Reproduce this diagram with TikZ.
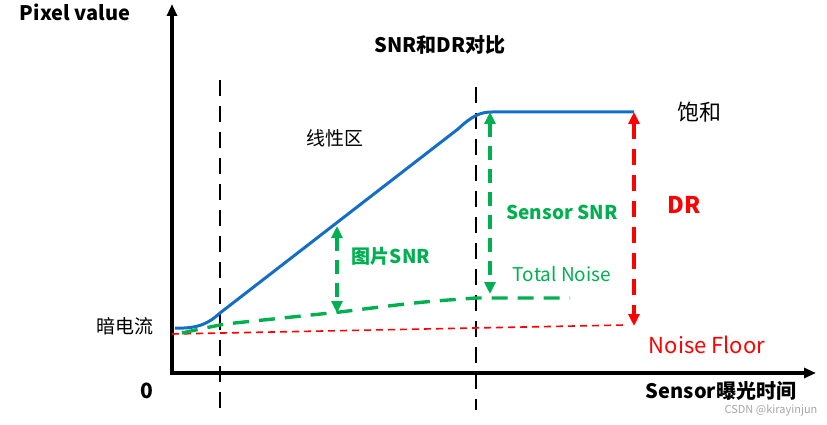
\documentclass[tikz,border=0pt]{standalone}
\usepackage{fontspec}
\setmainfont{Noto Sans CJK SC}
\usetikzlibrary{arrows.meta}
\definecolor{gr}{RGB}{0,176,80}
\definecolor{bl}{RGB}{20,110,200}
\begin{document}
\begin{tikzpicture}[x=1pt,y=-1pt,
  axis/.style={line width=3.5pt,-{Triangle[length=12pt,width=10pt]}},
  vdash/.style={line width=2.5pt,dash pattern=on 16pt off 10pt},
  garrow/.style={gr,line width=3.2pt,dash pattern=on 14pt off 9pt,{Triangle[length=12pt,width=11pt]}-{Triangle[length=12pt,width=11pt]}},
  rarrow/.style={red,line width=3.2pt,dash pattern=on 16pt off 10pt,{Triangle[length=12pt,width=11pt]}-{Triangle[length=12pt,width=11pt]}},
  lbl/.style={inner sep=0pt,font=\fontsize{19}{19}\selectfont}]
\useasboundingbox (0,0) rectangle (827,425);
\coordinate (yt) at (172,4);
\coordinate (xt) at (816,373);
\draw[axis] (172,375) -- (yt);
\draw[axis] (170.5,373) -- (xt);
\coordinate (v1a) at (220,80); \coordinate (v1b) at (220,415);
\coordinate (v2a) at (476,87); \coordinate (v2b) at (476,410);
\draw[vdash] (v1a) -- (v1b);
\draw[vdash] (v2a) -- (v2b);
\draw[red,line width=1.6pt,dash pattern=on 7pt off 5pt] (172,334) -- (625,325);
\draw[gr,line width=3.4pt,dash pattern=on 16pt off 10pt] (182,333) .. controls (200,329) .. (225,324) -- (340,312) .. controls (420,302) .. (476,298) .. controls (520,298) .. (570,298);
\draw[bl,line width=3pt] (175,328) .. controls (200,329) and (210,322) .. (220,313) -- (458,129) .. controls (472,116) and (480,112) .. (492,112) -- (634,112);
\coordinate (a1t) at (337,226); \coordinate (a1b) at (337,313);
\draw[garrow] (a1t) -- (a1b);
\coordinate (a2t) at (490,112); \coordinate (a2b) at (490,294);
\draw[garrow] (a2t) -- (a2b);
\coordinate (a3t) at (634,112); \coordinate (a3b) at (634,326);
\draw[rarrow] (a3t) -- (a3b);
\node[lbl,font=\bfseries\fontsize{20}{20}\selectfont] (pv) at (75,12) {Pixel value};
\node[lbl,font=\bfseries\fontsize{20}{20}\selectfont] (ti) at (440,45) {SNR和DR对比};
\node[lbl] (lin) at (335,138) {线性区};
\node[lbl,font=\fontsize{22}{22}\selectfont] (sat) at (699,112) {饱和};
\node[lbl,red,font=\bfseries\fontsize{23}{23}\selectfont] (dr) at (684,205) {DR};
\node[lbl,gr,font=\bfseries\fontsize{19}{19}\selectfont] (ss) at (562,212) {Sensor SNR};
\node[lbl,gr,font=\bfseries\fontsize{19}{19}\selectfont] (ps) at (391,256) {图片SNR};
\node[lbl,gr] (tn) at (562,274) {Total Noise};
\node[lbl] (dk) at (125,326) {暗电流};
\node[lbl,red,font=\fontsize{22}{22}\selectfont] (nf) at (707,345) {Noise Floor};
\node[lbl,font=\bfseries\fontsize{21}{21}\selectfont] (z) at (147,391) {0};
\node[lbl,font=\bfseries\fontsize{20}{20}\selectfont] (xl) at (721,391) {Sensor曝光时间};
\node[lbl,gray!70,font=\fontsize{11}{11}\selectfont] (wm) at (771,410) {CSDN @kirayinjun};
\end{tikzpicture}
\end{document}
